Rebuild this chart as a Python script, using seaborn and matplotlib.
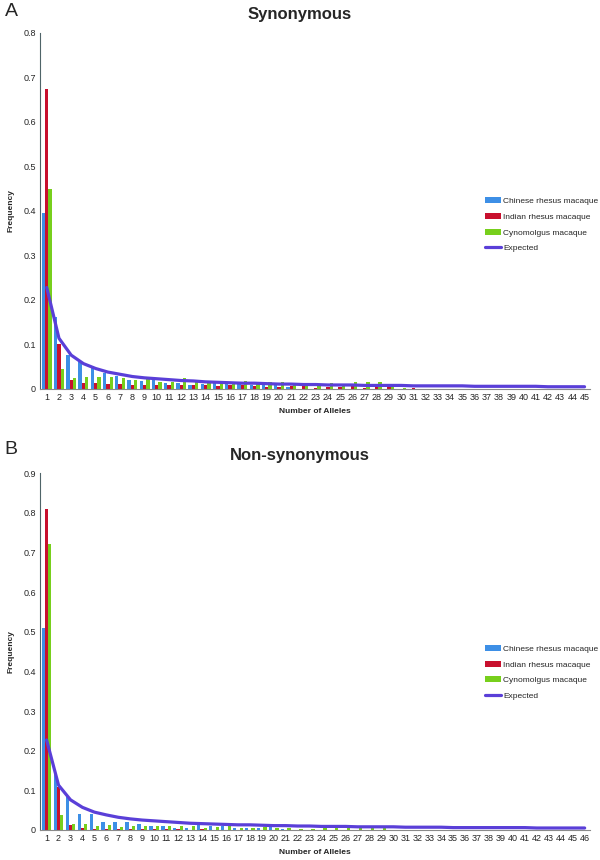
import numpy as np
import pandas as pd
import matplotlib
matplotlib.use("Agg")
import matplotlib.pyplot as plt
import seaborn as sns

# panel A - synonymous (alleles 1..45)
syn_chinese = [0.395, 0.162, 0.076, 0.063, 0.052, 0.035, 0.030, 0.020, 0.017, 0.022,
               0.013, 0.014, 0.010, 0.012, 0.014, 0.013, 0.013, 0.010, 0.011, 0.008,
               0.005, 0, 0, 0, 0, 0, 0, 0, 0, 0,
               0, 0, 0, 0, 0, 0, 0, 0, 0, 0, 0, 0, 0, 0, 0]
syn_indian = [0.675, 0.100, 0.020, 0.014, 0.013, 0.011, 0.011, 0.010, 0.008, 0.008,
              0.010, 0.010, 0.008, 0.008, 0.007, 0.008, 0.008, 0.007, 0.004, 0.005,
              0.006, 0.006, 0.003, 0.004, 0.004, 0.006, 0.003, 0.004, 0.004, 0,
              0.003, 0, 0, 0, 0, 0, 0, 0, 0, 0, 0, 0, 0, 0, 0]
syn_cyno = [0.450, 0.046, 0.025, 0.027, 0.027, 0.027, 0.024, 0.020, 0.025, 0.016,
            0.016, 0.025, 0.020, 0.014, 0.015, 0.014, 0.017, 0.016, 0.015, 0.015,
            0.008, 0.007, 0.007, 0.014, 0.008, 0.015, 0.015, 0.016, 0.012, 0.003,
            0, 0, 0, 0, 0, 0, 0, 0, 0, 0, 0, 0, 0, 0, 0]
syn_expected = [0.228, 0.114, 0.076, 0.057, 0.046, 0.038, 0.033, 0.028, 0.025, 0.023,
                0.021, 0.019, 0.018, 0.016, 0.015, 0.014, 0.013, 0.013, 0.012, 0.011,
                0.011, 0.010, 0.010, 0.009, 0.009, 0.009, 0.008, 0.008, 0.008, 0.008,
                0.007, 0.007, 0.007, 0.007, 0.007, 0.006, 0.006, 0.006, 0.006, 0.006,
                0.006, 0.005, 0.005, 0.005, 0.005]

# panel B - non-synonymous (alleles 1..46)
non_chinese = [0.510, 0.144, 0.084, 0.041, 0.040, 0.021, 0.020, 0.020, 0.014, 0.009,
               0.010, 0.006, 0.005, 0.014, 0.009, 0.010, 0.005, 0.004, 0.005, 0.007,
               0.003, 0, 0, 0, 0, 0, 0, 0, 0, 0,
               0, 0, 0, 0, 0, 0, 0, 0, 0, 0, 0, 0, 0, 0, 0, 0]
non_indian = [0.810, 0.108, 0.012, 0.005, 0.003, 0.003, 0.003, 0.003, 0.003, 0.002,
              0.002, 0.002, 0.001, 0.002, 0.001, 0.001, 0.001, 0.001, 0.001, 0.001,
              0, 0, 0, 0, 0, 0, 0, 0, 0, 0,
              0, 0, 0, 0, 0, 0, 0, 0, 0, 0, 0, 0, 0, 0, 0, 0]
non_cyno = [0.720, 0.038, 0.015, 0.014, 0.011, 0.013, 0.008, 0.011, 0.011, 0.009,
            0.010, 0.009, 0.010, 0.005, 0.008, 0.011, 0.006, 0.005, 0.007, 0.006,
            0.004, 0.003, 0.003, 0.004, 0.005, 0.005, 0.004, 0.005, 0.005, 0,
            0, 0, 0, 0, 0, 0, 0, 0, 0, 0, 0, 0, 0, 0, 0, 0]
non_expected = [0.227, 0.113, 0.076, 0.057, 0.045, 0.038, 0.032, 0.028, 0.025, 0.023,
                0.021, 0.019, 0.017, 0.016, 0.015, 0.014, 0.013, 0.013, 0.012, 0.011,
                0.011, 0.010, 0.010, 0.009, 0.009, 0.009, 0.008, 0.008, 0.008, 0.008,
                0.007, 0.007, 0.007, 0.007, 0.006, 0.006, 0.006, 0.006, 0.006, 0.006,
                0.006, 0.005, 0.005, 0.005, 0.005, 0.005]

species = ["Chinese rhesus macaque", "Indian rhesus macaque", "Cynomolgus macaque"]
colors = ["#3d8fe6", "#c8102e", "#77cf1c"]
line_color = "#5a3fd8"

sns.set_style("white")
plt.rcParams["font.family"] = ["Liberation Sans", "DejaVu Sans"]


def long_df(chinese, indian, cyno):
    n = len(chinese)
    alleles = [str(i) for i in range(1, n + 1)]
    return pd.DataFrame({
        "allele": alleles * 3,
        "species": [species[0]] * n + [species[1]] * n + [species[2]] * n,
        "freq": list(chinese) + list(indian) + list(cyno),
    })


def draw_panel(ax, df, expected, ymax, legend_y):
    n = len(expected)
    sns.barplot(data=df, x="allele", y="freq", hue="species", hue_order=species,
                palette=colors, width=0.82, ax=ax, saturation=1, errorbar=None,
                linewidth=0)
    sns.lineplot(x=np.arange(n), y=expected, color=line_color, lw=2.3,
                 ax=ax, label="Expected")
    ax.set_xlim(-0.55, n - 0.55)
    ax.set_ylim(0, ymax)
    ax.set_yticks(np.arange(0, ymax + 0.01, 0.1))
    ax.set_yticklabels(["0"] + [f"{v:.1f}" for v in np.arange(0.1, ymax + 0.01, 0.1)])
    ax.tick_params(axis="both", length=0, labelsize=6.5, pad=3)
    ax.set_xlabel("Number of Alleles", fontsize=6, fontweight="bold", labelpad=4)
    ax.set_ylabel("Frequency", fontsize=6, fontweight="bold", labelpad=6)
    sns.despine(ax=ax)
    ax.spines["left"].set_color("#4f6468")
    ax.spines["bottom"].set_color("#8a8a8a")
    ax.spines["left"].set_linewidth(0.8)
    ax.spines["bottom"].set_linewidth(0.8)
    ax.legend(loc="upper left", bbox_to_anchor=(0.801, legend_y), frameon=False,
              fontsize=6.0, handlelength=2.0, handleheight=0.7, labelspacing=0.95,
              handletextpad=0.2, borderpad=0)


fig = plt.figure(figsize=(6, 8.6), dpi=100)
ax1 = fig.add_axes([0.0667, 0.5477, 0.9167, 0.414])
ax2 = fig.add_axes([0.0667, 0.0349, 0.9167, 0.415])

draw_panel(ax1, long_df(syn_chinese, syn_indian, syn_cyno), syn_expected, 0.8, 0.55)
draw_panel(ax2, long_df(non_chinese, non_indian, non_cyno), non_expected, 0.9, 0.53)

fig.text(0.5, 1 - 15 / 860, "Synonymous", fontsize=12, fontweight="bold",
         ha="center", va="center")
fig.text(0.5, 1 - 456 / 860, "Non-synonymous", fontsize=12, fontweight="bold",
         ha="center", va="center")
fig.text(0.008, 1 - 11 / 860, "A", fontsize=14, va="center")
fig.text(0.008, 1 - 449 / 860, "B", fontsize=14, va="center")

fig.savefig("out.png", dpi=100)
